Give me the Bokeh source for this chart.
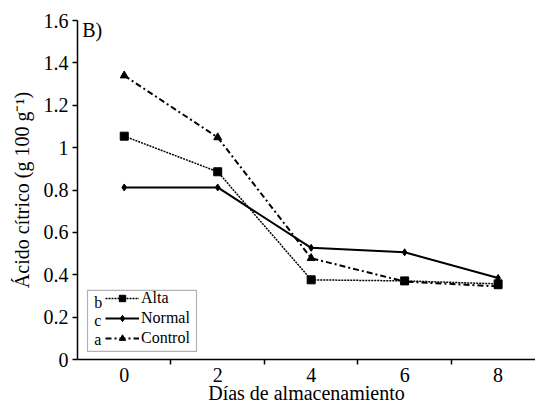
from bokeh.plotting import figure
from bokeh.models import (FixedTicker, CustomJSTickFormatter, Legend, LegendItem,
                          BoxAnnotation, Label, Range1d)
from bokeh.embed import file_html
from bokeh.resources import INLINE

# ---- data ----
dias = [0, 2, 4, 6, 8]
alta = [1.054, 0.886, 0.376, 0.371, 0.357]
normal = [0.812, 0.812, 0.527, 0.506, 0.385]
control = [1.340, 1.048, 0.478, 0.368, 0.345]
x_ticks = [0, 2, 4, 6, 8]
x_minor = [1, 3, 5, 7]
y_ticks = [0, 0.2, 0.4, 0.6, 0.8, 1.0, 1.2, 1.4, 1.6]
series_names = ["Alta", "Normal", "Control"]
series_letters = ["b", "c", "a"]

FONT = "'Liberation Serif', 'Times New Roman', serif"

p = figure(width=535, height=408, output_backend="svg", toolbar_location=None,
           x_range=Range1d(-1, 8.8), y_range=Range1d(0, 1.6),
           min_border_left=77, min_border_right=0, min_border_top=20,
           min_border_bottom=49)
p.outline_line_color = None
p.xgrid.visible = False
p.ygrid.visible = False
p.background_fill_color = "white"
p.border_fill_color = "white"

# axes
p.xaxis.ticker = FixedTicker(ticks=x_ticks, minor_ticks=x_minor)
p.xaxis.major_tick_out = 0
p.xaxis.major_tick_in = 0
p.xaxis.minor_tick_out = 5
p.xaxis.minor_tick_in = 0
p.xaxis.minor_tick_line_color = "black"
p.xaxis.minor_tick_line_width = 1.5
p.xaxis.axis_label = "Días de almacenamiento"
p.xaxis.major_label_standoff = 3
p.xaxis.axis_label_standoff = -3

p.yaxis.ticker = FixedTicker(ticks=y_ticks, minor_ticks=[])
p.yaxis.formatter = CustomJSTickFormatter(code="return String(Math.round(tick*10)/10);")
p.yaxis.major_tick_out = 5
p.yaxis.major_tick_in = 0
p.yaxis.axis_label = "Ácido cítrico (g 100 g⁻¹)"
p.yaxis.major_label_standoff = 4
p.yaxis.axis_label_standoff = 8

for ax in (p.xaxis, p.yaxis):
    ax.axis_line_color = "black"
    ax.axis_line_width = 1.5
    ax.major_tick_line_color = "black"
    ax.major_tick_line_width = 1.5
    ax.major_label_text_font = FONT
    ax.major_label_text_font_size = "20px"
    ax.major_label_text_color = "black"
    ax.axis_label_text_font = FONT
    ax.axis_label_text_font_size = "20px"
    ax.axis_label_text_font_style = "normal"
    ax.axis_label_text_color = "black"

# series
r_alta_l = p.line(dias, alta, line_color="black", line_width=1.5, line_dash="2 1")
r_alta_m = p.scatter(dias, alta, marker="square", size=8, color="black")
r_norm_l = p.line(dias, normal, line_color="black", line_width=2)
r_norm_m = p.scatter(dias, normal, marker="diamond", size=7, color="black")
r_ctrl_l = p.line(dias, control, line_color="black", line_width=2, line_dash="6 3 2 3")
r_ctrl_m = p.scatter(dias, control, marker="triangle", size=8, color="black")

legend = Legend(items=[
    LegendItem(label=series_names[0], renderers=[r_alta_l, r_alta_m]),
    LegendItem(label=series_names[1], renderers=[r_norm_l, r_norm_m]),
    LegendItem(label=series_names[2], renderers=[r_ctrl_l, r_ctrl_m]),
], location=(28, 12), orientation="vertical")
legend.border_line_color = None
legend.background_fill_alpha = 0
legend.padding = 0
legend.margin = 0
legend.spacing = 2
legend.glyph_width = 34
legend.glyph_height = 16
legend.label_height = 16
legend.label_standoff = 2
legend.label_text_font = FONT
legend.label_text_font_size = "16px"
legend.label_text_color = "black"
p.add_layout(legend, "center")

# legend frame and letters
p.add_layout(BoxAnnotation(left=-0.786, right=1.546, bottom=0.038, top=0.326,
                           fill_alpha=0, line_color="black", line_width=1.2))
for lt, yy in zip(series_letters, [0.269, 0.184, 0.094]):
    p.add_layout(Label(x=-0.64, y=yy, text=lt, text_font=FONT, text_font_size="16px",
                       text_baseline="middle", text_align="left", text_color="black"))

p.add_layout(Label(x=-0.9, y=1.6, text="B)", text_font=FONT, text_font_size="20px",
                   text_baseline="top", text_align="left", text_color="black",
                   y_offset=2))

open("out.html", "w").write(file_html(p, INLINE))
